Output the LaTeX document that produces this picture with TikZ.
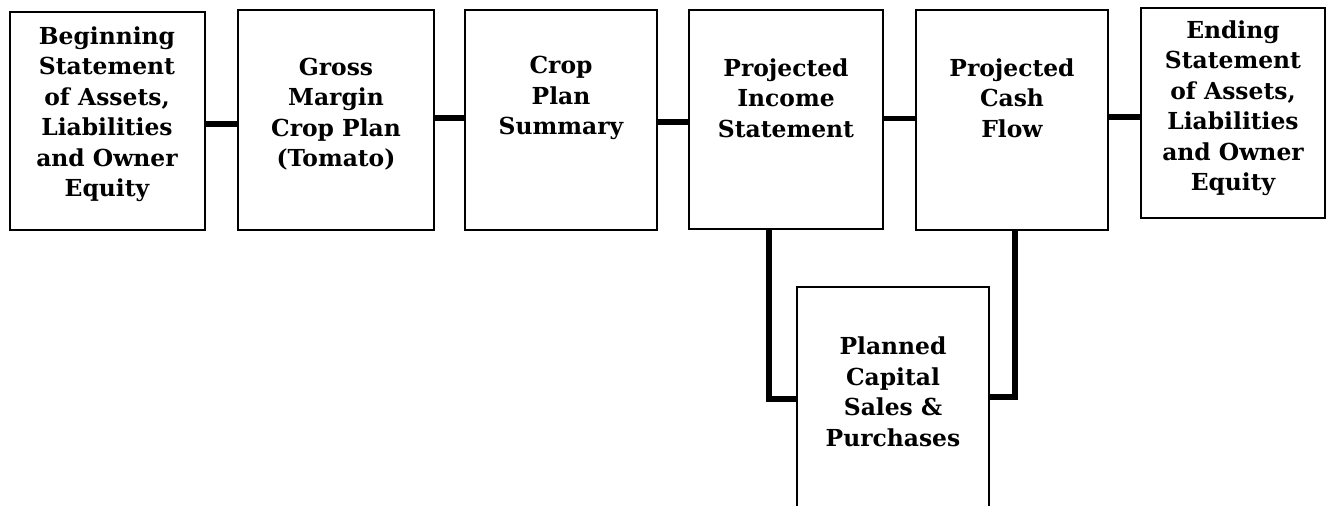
\documentclass[tikz,border=0pt]{standalone}
\usepackage{fontspec}
\usetikzlibrary{calc}
\setmainfont{DejaVu Serif}
\begin{document}
\begin{tikzpicture}[x=0.5pt,y=-0.5pt,
  box/.style={draw=black,line width=1pt,fill=white,inner sep=0pt},
  txt/.style={font=\bfseries\fontsize{11.7}{15.25}\selectfont,align=center,inner sep=0pt},
  conn/.style={draw=black,line width=2.6pt}]
\useasboundingbox (0,0) rectangle (1340,506);
\begin{scope}
\clip (0,0) rectangle (1340,506);
\node[box,minimum width=97.5pt,minimum height=109pt] (b1) at (107.5,121) {};
\node[box,minimum width=98pt,minimum height=110pt] (b2) at (336,120) {};
\node[box,minimum width=96pt,minimum height=110pt] (b3) at (561,120) {};
\node[box,minimum width=97pt,minimum height=109.5pt] (b4) at (786,119.5) {};
\node[box,minimum width=96pt,minimum height=110pt] (b5) at (1012,120) {};
\node[box,minimum width=92pt,minimum height=105pt] (b6) at (1233,113) {};
\node[box,minimum width=96pt,minimum height=130pt] (b7) at (893,417) {};
\coordinate (c4) at ($(b4.south)+(-17,0)$);
\coordinate (c5) at ($(b5.south)+(3,0)$);
\draw[conn] ($(b1.east)+(0,3)$) -- ($(b1.east -| b2.west)+(0,3)$);
\draw[conn] ($(b2.east)+(0,-2)$) -- ($(b2.east -| b3.west)+(0,-2)$);
\draw[conn] ($(b3.east)+(0,2)$) -- ($(b3.east -| b4.west)+(0,2)$);
\draw[conn] ($(b4.east)+(0,-1)$) -- ($(b4.east -| b5.west)+(0,-1)$);
\draw[conn] ($(b5.east)+(0,-3)$) -- ($(b5.east -| b6.west)+(0,-3)$);
\draw[conn] (c4) |- ($(b7.west)+(0,-18)$);
\draw[conn] (c5) |- ($(b7.east)+(0,-20)$);
\node[txt] (t1) at (107,114) {Beginning\\Statement\\of Assets,\\Liabilities\\and Owner\\Equity};
\node[txt] (t2) at (336,114) {Gross\\Margin\\Crop Plan\\(Tomato)};
\node[txt] (t3) at (561,98) {Crop\\Plan\\Summary};
\node[txt] (t4) at (786,98) {Projected\\Income\\Statement};
\node[txt] (t5) at (1012,98) {Projected\\Cash\\Flow};
\node[txt] (t6) at (1233,108) {Ending\\Statement\\of Assets,\\Liabilities\\and Owner\\Equity};
\node[txt] (t7) at (893,392) {Planned\\Capital\\Sales \&\\Purchases};
\end{scope}
\end{tikzpicture}
\end{document}
